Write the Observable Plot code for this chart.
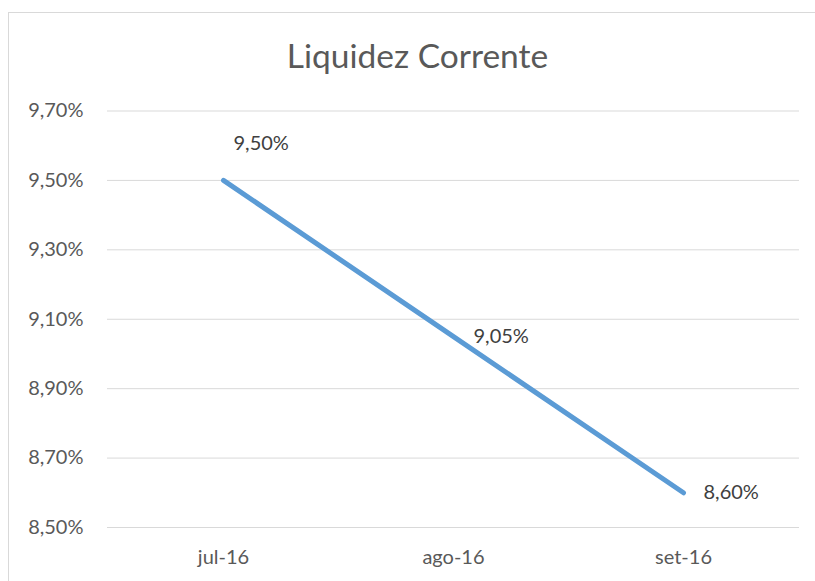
<!DOCTYPE html>
<html>
<head>
<meta charset="utf-8">
<script src="https://cdn.jsdelivr.net/npm/d3@7"></script>
<script src="https://cdn.jsdelivr.net/npm/@observablehq/plot@0.6"></script>
<style>
  html, body { margin: 0; padding: 0; background: #ffffff; width: 815px; height: 581px; overflow: hidden; }
  #frame { position: absolute; left: 8px; top: 12px; width: 900px; height: 700px;
           border-left: 1px solid #d9d9d9; border-top: 1px solid #d9d9d9; box-sizing: border-box; }
  #title { position: absolute; left: 0; top: 39px; width: 835px; text-align: center;
           font-family: Lato, "Open Sans", sans-serif; font-size: 33.5px; line-height: 33px; color: #595959; }
  #chart { position: absolute; left: 0; top: 80px; }
</style>
</head>
<body>
<div id="frame"></div>
<div id="title">Liquidez Corrente</div>
<div id="chart"></div>
<script>
const months = ["jul-16", "ago-16", "set-16"];
const values = [9.50, 9.05, 8.60];
const yTicks = [8.5, 8.7, 8.9, 9.1, 9.3, 9.5, 9.7];

const fmt = d => d.toFixed(2).replace(".", ",") + "%";
const data = months.map((m, i) => ({month: m, value: values[i]}));

const chart = Plot.plot({
  width: 815,
  height: 501,
  marginTop: 30.5,
  marginBottom: 54,
  marginLeft: 107,
  marginRight: 16,
  style: {fontFamily: "Lato, 'Open Sans', sans-serif", fontSize: "20px", color: "#595959", background: "transparent"},
  x: {type: "point", domain: months, padding: 0.5},
  y: {domain: [8.5, 9.7]},
  marks: [
    Plot.gridY(yTicks, {stroke: "#d9d9d9", strokeOpacity: 1, strokeWidth: 1}),
    Plot.axisY(yTicks, {tickSize: 0, tickPadding: 24, tickFormat: fmt, fill: "#595959", fontSize: 20, label: null}),
    Plot.axisX({tickSize: 0, tickPadding: 22, fill: "#595959", fontSize: 20, label: null}),
    Plot.line(data, {x: "month", y: "value", stroke: "#5b9bd5", strokeWidth: 5, strokeLinecap: "round"}),
    Plot.text(data.slice(0, 1), {x: "month", y: "value", text: d => fmt(d.value), textAnchor: "start", dx: 10, dy: -36.5, fill: "#404040", fontSize: 20}),
    Plot.text(data.slice(1), {x: "month", y: "value", text: d => fmt(d.value), textAnchor: "start", dx: 20, fill: "#404040", fontSize: 20})
  ]
});
document.getElementById("chart").appendChild(chart);
</script>
</body>
</html>
